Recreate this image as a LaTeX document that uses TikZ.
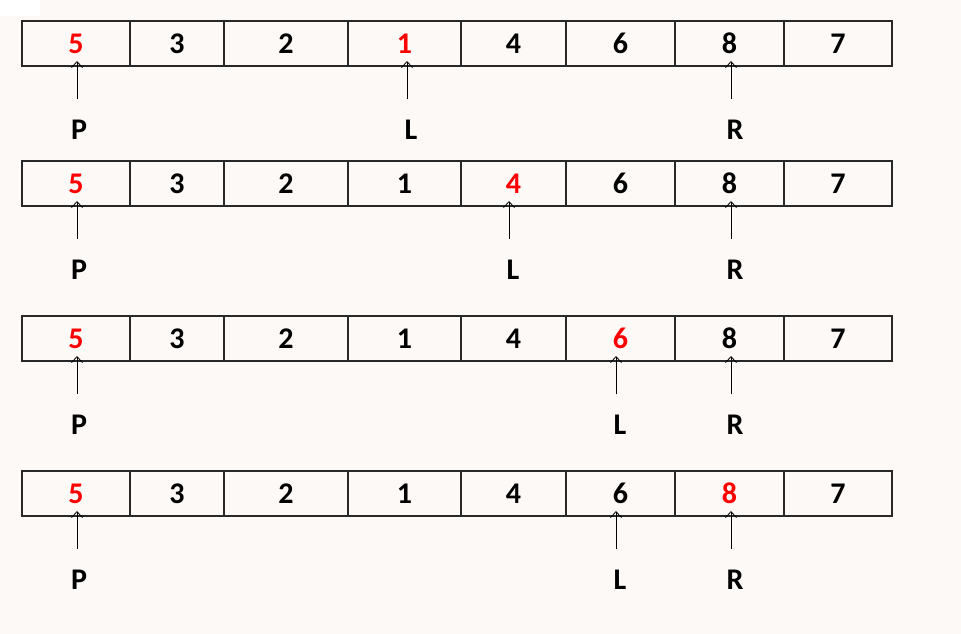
\documentclass[tikz,border=0pt]{standalone}
\usepackage{fontspec}
\setmainfont{Carlito}
\usetikzlibrary{arrows.meta}
\definecolor{bg}{RGB}{252,249,246}
\definecolor{boxline}{RGB}{40,40,40}
\begin{document}
\begin{tikzpicture}[x=1pt,y=-1pt,
  cell/.style={draw=boxline, line width=1.3pt, minimum height=45pt, inner sep=0pt,
    font=\bfseries\fontsize{30}{34}\selectfont},
  lbl/.style={inner sep=0pt, font=\bfseries\fontsize{30}{34}\selectfont},
  ptr/.style={line width=0.8pt, -{Straight Barb[length=6pt,width=11pt]}}]
\fill[bg] (0,0) rectangle (961,634);
\useasboundingbox (0,0) rectangle (961,634);
\fill[white] (0,0) rectangle (40,16);
\foreach \r/\t/\k/\lx in {1/21/4/407, 2/161/5/509, 3/316/6/616, 4/471/7/616} {
  \foreach \i/\a/\b/\v in {1/22/130/5, 2/130/224/3, 3/224/348/2, 4/348/461/1,
                           5/461/566/4, 6/566/675/6, 7/675/784/8, 8/784/892/7} {
    \def\col{black}
    \ifnum\i=1 \def\col{red}\fi
    \ifnum\i=\k \def\col{red}\fi
    \node[cell, text=\col, minimum width={\b-\a}] (c\r-\i) at ({(\a+\b)/2},{\t+22.5}) {\v};
  }
  \pgfmathsetmacro\bot{\t+45}
  \foreach \n/\x/\dx in {P/77/2, L/\lx/4, R/731/4} {
    \coordinate (tail\r\n) at (\x,\bot+33);
    \coordinate (tip\r\n) at (\x,\bot-5);
    \node[lbl] (lab\r\n) at (\x+\dx,\bot+64) {\n};
    \draw[ptr] (tail\r\n) -- (tip\r\n);
  }
}
\end{tikzpicture}
\end{document}
